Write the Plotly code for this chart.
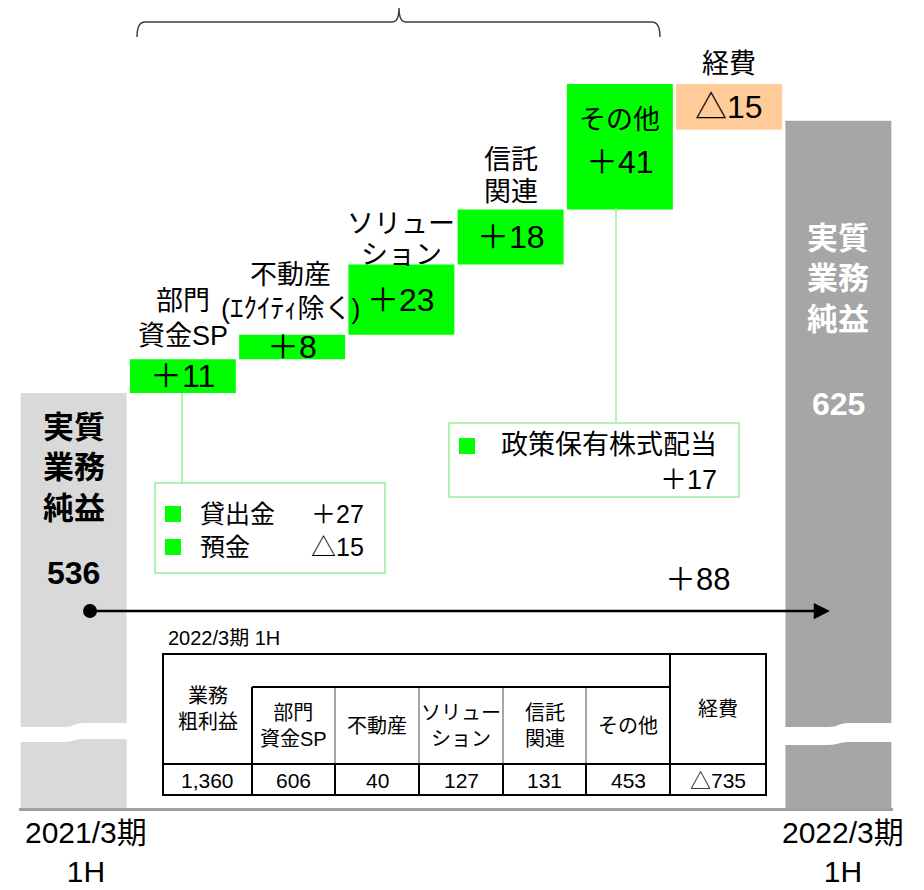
import plotly.graph_objects as go

# ---------------- data ----------------
categories = ["2021/3期 1H", "部門資金SP", "不動産", "ソリューション", "信託関連", "その他", "経費", "2022/3期 1H"]
start_value = 536
end_value = 625
deltas = [11, 8, 23, 18, 41, -15]
delta_labels = ["＋11", "＋8", "＋23", "＋18", "＋41", "△15"]
delta_titles = ["部門<br>資金SP", "不動産<br>(ｴｸｲﾃｨ除く)", "ソリュー<br>ション", "信託<br>関連", "その他", "経費"]
total_change_label = "＋88"
profit_title = "実質<br>業務<br>純益"
period_labels = ["2021/3期<br>1H", "2022/3期<br>1H"]

table_title = "2022/3期 1H"
table_headers = ["業務<br>粗利益", "部門<br>資金SP", "不動産", "ソリュー<br>ション", "信託<br>関連", "その他", "経費"]
table_values = ["1,360", "606", "40", "127", "131", "453", "△735"]

loan_items = ["貸出金", "預金"]
loan_values = ["＋27", "△15"]
dividend_item = "政策保有株式配当"
dividend_value = "＋17"

# ---------------- styling / layout ----------------
FONT = "Liberation Sans, Noto Sans CJK JP"
OFF = 8                      # page body margin of the browser
W_FIG, H_FIG = 924 - OFF, 890 - OFF
PLOT_L, PLOT_R, PLOT_T, PLOT_B = 19, 893, 8, 808   # plot area in page pixels
PW, PH = PLOT_R - PLOT_L, PLOT_B - PLOT_T
PXU = 3.06                   # pixels per unit on the value axis
START_TOP_PX = 393
y_lo = start_value - (PLOT_B - START_TOP_PX) / PXU
y_hi = start_value + (START_TOP_PX - PLOT_T) / PXU

C_START, C_END = "#d9d9d9", "#a6a6a6"
C_UP, C_DOWN = "#00ff00", "#ffcc99"
C_CALLOUT = "#99ee99"


def X(p):
    return (p - PLOT_L) / PW


def Y(p):
    return (PLOT_B - p) / PH


# waterfall geometry from data
bases, heights, colors = [0], [start_value], [C_START]
cum = start_value
for d in deltas:
    if d >= 0:
        bases.append(cum)
        heights.append(d)
        colors.append(C_UP)
    else:
        bases.append(cum + d)
        heights.append(-d)
        colors.append(C_DOWN)
    cum += d
bases.append(0)
heights.append(end_value)
colors.append(C_END)

fig = go.Figure()
fig.add_trace(go.Bar(
    x=categories, y=heights, base=bases,
    marker=dict(color=colors, line=dict(width=0)),
    hoverinfo="skip", showlegend=False,
))

ann = []


def txt(text, x, y, size, xref="x", yref="y", xshift=0, yshift=0, color="black",
        bold=False, xanchor="center", yanchor="middle", align="center"):
    if bold:
        text = "<b>" + text.replace("<br>", "</b><br><b>") + "</b>"
    ann.append(dict(text=text, x=x, y=y, xref=xref, yref=yref, xshift=xshift, yshift=yshift,
                    showarrow=False, xanchor=xanchor, yanchor=yanchor, borderpad=0, align=align,
                    font=dict(family=FONT, size=size, color=color)))


# start / end bar labels
txt(profit_title, categories[0], start_value, 31, yshift=-75, bold=True)
txt(profit_title, categories[-1], end_value, 31, yshift=-158, bold=True, color="white")
txt(str(start_value), categories[0], start_value, 32, yshift=-180, bold=True)
txt(str(end_value), categories[-1], end_value, 32, yshift=-283, bold=True, color="white")

# delta labels (titles above the bar: gap to bar top, line spacing, horizontal nudge)
title_layout = [(23, 35, 0), (26, 34, -2), (9, 31, 0), (17, 32, 0)]
for i, d in enumerate(deltas):
    cat = categories[i + 1]
    top = bases[i + 1] + heights[i + 1]
    mid = bases[i + 1] + heights[i + 1] / 2
    if i < 4:
        g, s, xs = title_layout[i]
        for k, ln in enumerate(reversed(delta_titles[i].split("<br>"))):
            txt(ln, cat, top, 27, yshift=g + s * k, xshift=xs)
        txt(delta_labels[i], cat, mid, 32)
    elif d >= 0:
        txt(delta_titles[i], cat, top, 27, yshift=-36)
        txt(delta_labels[i], cat, top, 32, yshift=-78)
    else:
        txt(delta_titles[i], cat, top, 27, yshift=20)
        txt(delta_labels[i], cat, mid, 32)

# period labels under the axis
txt(period_labels[0], categories[0], 0, 30, yref="paper", xshift=12, yshift=-44)
txt(period_labels[1], categories[-1], 0, 30, yref="paper", xshift=5, yshift=-44)

# total change arrow
txt(total_change_label, X(697), Y(579), 31, xref="paper", yref="paper")
ann.append(dict(x=X(830), y=Y(611), xref="paper", yref="paper", ax=90 - 830, ay=0,
                axref="pixel", ayref="pixel", text="", showarrow=True, arrowhead=2,
                arrowsize=1.3, arrowwidth=2.5, arrowcolor="black", standoff=0, startstandoff=0))

shapes = []
shapes.append(dict(type="circle", xref="paper", yref="paper", x0=X(83), x1=X(97), y0=Y(618), y1=Y(604),
                   fillcolor="black", line=dict(width=0)))

# axis-break bands over the start and end bars
slot = PW / len(categories)
half = slot * 0.97 / 2
for idx, (t0, t1, b0, b1) in [(0, (727, 723, 742, 739)), (len(categories) - 1, (727, 723, 745, 742))]:
    c = PLOT_L + slot * (idx + 0.5)
    xa, xb = c - half - 2, c + half + 2
    xm = c
    path = (f"M {X(xa)},{Y(t0)} L {X(xm-10)},{Y(t0)} C {X(xm)},{Y(t0)} {X(xm)},{Y(t1)} {X(xm+10)},{Y(t1)} "
            f"L {X(xb)},{Y(t1)} L {X(xb)},{Y(b1)} L {X(xm+10)},{Y(b1)} C {X(xm)},{Y(b1)} {X(xm)},{Y(b0)} "
            f"{X(xm-10)},{Y(b0)} L {X(xa)},{Y(b0)} Z")
    shapes.append(dict(type="path", xref="paper", yref="paper", path=path,
                       fillcolor="white", line=dict(width=0)))

# brace on top
bp = [(137, 37), (137, 22), (145, 22), (392, 22), (399, 22), (399, 8), (399, 22), (406, 22),
      (652, 22), (660, 22), (660, 37)]
P = [f"{X(a)},{Y(b)}" for a, b in bp]
brace = (f"M {P[0]} Q {P[1]} {P[2]} L {P[3]} Q {P[4]} {P[5]} Q {P[6]} {P[7]} "
         f"L {P[8]} Q {P[9]} {P[10]}")
shapes.append(dict(type="path", xref="paper", yref="paper", path=brace,
                   line=dict(color="#404040", width=1.5)))


def line(x0, y0, x1, y1, color="black", width=2):
    shapes.append(dict(type="line", xref="paper", yref="paper", x0=X(x0), y0=Y(y0), x1=X(x1), y1=Y(y1),
                       line=dict(color=color, width=width)))


def rect(x0, y0, x1, y1, fill=None, color="black", width=2):
    shapes.append(dict(type="rect", xref="paper", yref="paper", x0=X(x0), y0=Y(y0), x1=X(x1), y1=Y(y1),
                       fillcolor=fill if fill else "rgba(0,0,0,0)",
                       line=dict(color=color, width=width)))


# callout 1 (部門資金SP)
line(182, 393, 182, 483, color=C_CALLOUT, width=1.5)
rect(155, 483, 385, 573, color=C_CALLOUT, width=1.5)
for k in range(len(loan_items)):
    yc = 514 + 33 * k
    rect(165, yc - 8, 181, yc + 8, fill=C_UP, color=C_UP, width=0)
txt("<br>".join(loan_items), X(199), Y(530), 25, xref="paper", yref="paper", xanchor="left", align="left")
txt("<br>".join(loan_values), X(310), Y(530), 25, xref="paper", yref="paper", xanchor="left", align="left")

# callout 2 (その他)
line(616, 208, 616, 423, color=C_CALLOUT, width=1.5)
rect(449, 423, 739, 497, color=C_CALLOUT, width=1.5)
rect(459, 438, 475, 454, fill=C_UP, color=C_UP, width=0)
txt(dividend_item + "<br>" + dividend_value, X(718), Y(462), 27, xref="paper", yref="paper",
    xanchor="right", align="right")

# table
cols = [163, 252, 335, 419, 503, 586, 670, 766]
r_top, r_sub, r_mid, r_bot = 654, 687, 764, 795
txt(table_title, X(167), Y(638), 20, xref="paper", yref="paper", xanchor="left")
for cx in cols[2:6]:
    line(cx, r_sub, cx, r_mid, color="#a6a6a6", width=2)
    line(cx, r_mid, cx, r_bot, color="black", width=2)
line(cols[1], r_sub, cols[6], r_sub)
line(cols[0], r_mid, cols[7], r_mid)
line(cols[1], r_sub, cols[1], r_bot)
line(cols[6], r_top, cols[6], r_bot)
rect(cols[0], r_top, cols[7], r_bot)
for j, (h, v) in enumerate(zip(table_headers, table_values)):
    xc = (cols[j] + cols[j + 1]) / 2
    yc = (r_top + r_mid) / 2 if j in (0, len(table_headers) - 1) else (r_sub + r_mid) / 2
    txt(h, X(xc), Y(yc), 20, xref="paper", yref="paper")
    txt(v, X(xc), Y((r_mid + r_bot) / 2 + 1), 21, xref="paper", yref="paper")

fig.update_layout(
    width=W_FIG, height=H_FIG,
    margin=dict(l=PLOT_L - OFF, r=W_FIG - (PLOT_R - OFF), t=PLOT_T - OFF, b=H_FIG - (PLOT_B - OFF)),
    paper_bgcolor="white", plot_bgcolor="white",
    bargap=0.03,
    hovermode=False,
    xaxis=dict(range=[-0.5, len(categories) - 0.5], showticklabels=False, ticks="",
               showgrid=False, zeroline=False, showline=True, linecolor="#a0a0a0", linewidth=3,
               fixedrange=True),
    yaxis=dict(range=[y_lo, y_hi], visible=False, fixedrange=True),
    annotations=ann,
    shapes=shapes,
    font=dict(family=FONT),
)

fig.write_html("out.html")
